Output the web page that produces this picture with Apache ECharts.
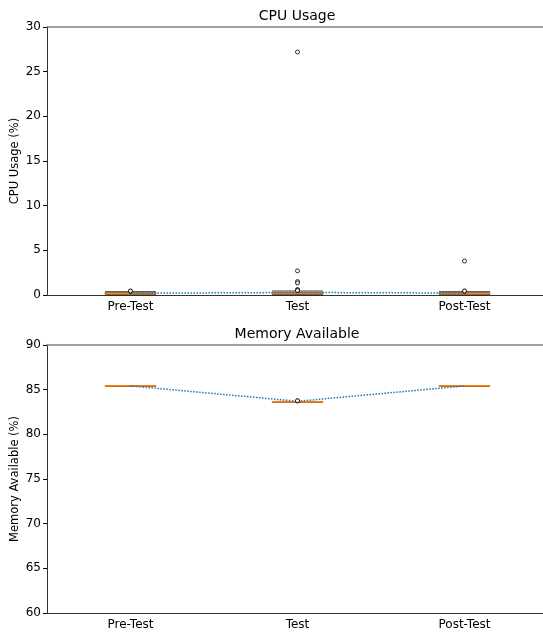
<!DOCTYPE html>
<html>
<head>
<meta charset="utf-8">
<script src="https://cdn.jsdelivr.net/npm/echarts@6/dist/echarts.min.js"></script>
<style>html,body{margin:0;padding:0;background:#fff}#c{width:543px;height:632px}</style>
</head>
<body>
<div id="c"></div>
<script>
const categories = ['Pre-Test', 'Test', 'Post-Test'];
// boxplot stats: [min, Q1, median, Q3, max]
const cpuBox = [[0.02, 0.1, 0.15, 0.25, 0.38], [0.02, 0.1, 0.18, 0.3, 0.45], [0.02, 0.1, 0.15, 0.25, 0.38]];
const cpuFliers = [[0.42, 0.45], [27.2, 2.7, 1.5, 1.35, 0.6, 0.55, 0.5], [3.8, 0.42, 0.45]];
const cpuMean = [0.2, 0.28, 0.22];
const memBox = [[85.38, 85.4, 85.42, 85.44, 85.46], [83.6, 83.62, 83.64, 83.66, 83.68], [85.38, 85.4, 85.42, 85.44, 85.46]];
const memFliers = [[], [83.74, 83.76], []];
const memMean = [85.42, 83.7, 85.42];
const cpuTicks = [0, 30, 5];
const memTicks = [60, 90, 5];
const titles = ['CPU Usage', 'Memory Available'];

const font = 'DejaVu Sans';
function fl(arr) { const o = []; arr.forEach((vs, i) => vs.forEach(v => o.push([categories[i], v]))); return o; }
function med(box) { return box.map(b => [b[2], b[2], b[2], b[2], b[2]]); }

const grids = [
  { left: 47, width: 501, top: 27, height: 268, containLabel: false, outerBoundsMode: 'none' },
  { left: 47, width: 501, top: 345, height: 268, containLabel: false, outerBoundsMode: 'none' }
];
function xMain(gi) {
  return { type: 'category', gridIndex: gi, data: categories, boundaryGap: true,
    axisLine: { lineStyle: { color: '#333', width: 1 } },
    axisTick: { alignWithLabel: true, length: 4, lineStyle: { color: '#000' }, interval: 0 },
    axisLabel: { color: '#000', fontFamily: font, fontSize: 12, margin: 6, interval: 0 },
    splitLine: { show: false } };
}
function xTop(gi) {
  return { type: 'category', gridIndex: gi, data: categories, position: 'top', boundaryGap: true,
    axisLine: { lineStyle: { color: '#808080', width: 1.5 } },
    axisTick: { show: false }, axisLabel: { show: false }, splitLine: { show: false } };
}
function yAx(gi, t, name) {
  return { type: 'value', gridIndex: gi, min: t[0], max: t[1], interval: t[2],
    name: name, nameLocation: 'middle', nameGap: 26, nameMoveOverlap: false,
    nameTextStyle: { color: '#000', fontFamily: font, fontSize: 11.5 },
    axisLine: { show: true, lineStyle: { color: '#333', width: 1 } },
    axisTick: { show: true, length: 4, lineStyle: { color: '#000' } },
    axisLabel: { color: '#000', fontFamily: font, fontSize: 12, margin: 6 },
    splitLine: { show: false } };
}
const boxStyle = { color: 'rgba(0,0,0,0)', borderColor: '#222', borderWidth: 0.8 };
const medStyle = { color: 'rgba(0,0,0,0)', borderColor: '#ff7f0e', borderWidth: 1.8 };
const flierOpt = { type: 'scatter', symbol: 'circle', symbolSize: 4,
  itemStyle: { color: '#fff', borderColor: '#000', borderWidth: 1 }, z: 5 };

const chart = echarts.init(document.getElementById('c'));
chart.setOption({
  animation: false,
  backgroundColor: '#fff',
  graphic: [
    { type: 'text', x: 297, y: 9, style: { text: titles[0], fontFamily: font, fontSize: 14, fill: '#000', textAlign: 'center' } },
    { type: 'text', x: 297, y: 327, style: { text: titles[1], fontFamily: font, fontSize: 14, fill: '#000', textAlign: 'center' } }
  ],
  grid: grids,
  xAxis: [xMain(0), xMain(1), xTop(0), xTop(1)],
  yAxis: [yAx(0, cpuTicks, 'CPU Usage (%)'), yAx(1, memTicks, 'Memory Available (%)')],
  series: [
    { type: 'boxplot', xAxisIndex: 0, yAxisIndex: 0, data: cpuBox, boxWidth: [51, 51], itemStyle: boxStyle },
    { type: 'boxplot', xAxisIndex: 2, yAxisIndex: 0, data: med(cpuBox), boxWidth: [51, 51], itemStyle: medStyle, z: 3 },
    Object.assign({ xAxisIndex: 0, yAxisIndex: 0, data: fl(cpuFliers) }, flierOpt),
    { type: 'line', xAxisIndex: 0, yAxisIndex: 0, data: cpuMean, symbol: 'none', lineStyle: { type: 'dotted', color: '#1f77b4', width: 1.5 }, z: 4 },
    { type: 'boxplot', xAxisIndex: 1, yAxisIndex: 1, data: memBox, boxWidth: [51, 51], itemStyle: boxStyle },
    { type: 'boxplot', xAxisIndex: 3, yAxisIndex: 1, data: med(memBox), boxWidth: [51, 51], itemStyle: medStyle, z: 3 },
    Object.assign({ xAxisIndex: 1, yAxisIndex: 1, data: fl(memFliers) }, flierOpt),
    { type: 'line', xAxisIndex: 1, yAxisIndex: 1, data: memMean, symbol: 'none', lineStyle: { type: 'dotted', color: '#1f77b4', width: 1.5 }, z: 4 }
  ]
});
</script>
</body>
</html>
